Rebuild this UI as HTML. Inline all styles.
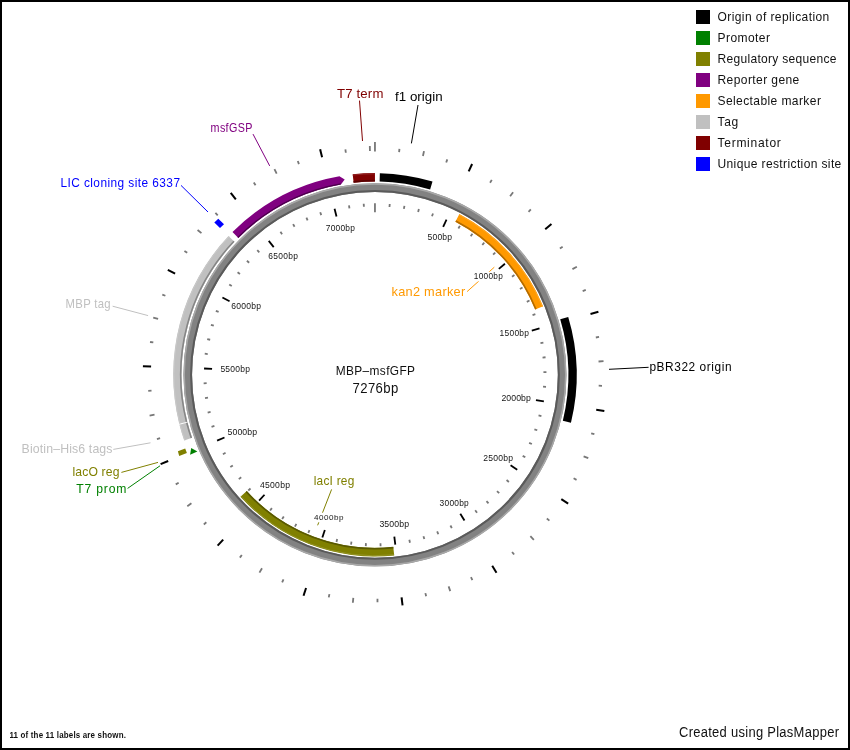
<!DOCTYPE html>
<html><head><meta charset="utf-8"><style>
html,body{margin:0;padding:0;background:#fff;}
#wrap{position:relative;width:850px;height:750px;overflow:hidden;background:#fff;}
#frame{position:absolute;left:0;top:0;width:846px;height:746px;border:2px solid #000;}
svg{position:absolute;left:0;top:0;will-change:transform;}
text{font-family:"Liberation Sans", sans-serif;}
</style></head><body><div id="wrap"><div id="frame"></div>
<svg width="850" height="750" viewBox="0 0 850 750">
<line x1="374.95" y1="212.35" x2="374.95" y2="203.15" stroke="#777777" stroke-width="1.8"/>
<line x1="389.48" y1="206.98" x2="389.74" y2="203.99" stroke="#777777" stroke-width="1.8"/>
<line x1="403.91" y1="208.86" x2="404.42" y2="205.90" stroke="#777777" stroke-width="1.8"/>
<line x1="418.12" y1="211.97" x2="418.88" y2="209.07" stroke="#777777" stroke-width="1.8"/>
<line x1="432.00" y1="216.30" x2="433.02" y2="213.48" stroke="#777777" stroke-width="1.8"/>
<line x1="443.16" y1="226.81" x2="446.51" y2="219.54" stroke="#000000" stroke-width="1.8"/>
<line x1="458.40" y1="228.47" x2="459.89" y2="225.86" stroke="#777777" stroke-width="1.8"/>
<line x1="470.71" y1="236.21" x2="472.42" y2="233.74" stroke="#777777" stroke-width="1.8"/>
<line x1="482.32" y1="244.99" x2="484.23" y2="242.67" stroke="#777777" stroke-width="1.8"/>
<line x1="493.12" y1="254.73" x2="495.22" y2="252.59" stroke="#777777" stroke-width="1.8"/>
<line x1="498.86" y1="268.94" x2="504.94" y2="263.74" stroke="#000000" stroke-width="1.8"/>
<line x1="512.00" y1="276.82" x2="514.44" y2="275.08" stroke="#777777" stroke-width="1.8"/>
<line x1="519.95" y1="289.01" x2="522.53" y2="287.48" stroke="#777777" stroke-width="1.8"/>
<line x1="526.81" y1="301.83" x2="529.51" y2="300.53" stroke="#777777" stroke-width="1.8"/>
<line x1="532.54" y1="315.20" x2="535.35" y2="314.14" stroke="#777777" stroke-width="1.8"/>
<line x1="531.80" y1="330.51" x2="539.50" y2="328.34" stroke="#000000" stroke-width="1.8"/>
<line x1="540.45" y1="343.17" x2="543.39" y2="342.61" stroke="#777777" stroke-width="1.8"/>
<line x1="542.56" y1="357.56" x2="545.55" y2="357.26" stroke="#777777" stroke-width="1.8"/>
<line x1="543.43" y1="372.09" x2="546.43" y2="372.04" stroke="#777777" stroke-width="1.8"/>
<line x1="543.04" y1="386.63" x2="546.03" y2="386.84" stroke="#777777" stroke-width="1.8"/>
<line x1="535.96" y1="400.22" x2="543.87" y2="401.47" stroke="#000000" stroke-width="1.8"/>
<line x1="538.51" y1="415.34" x2="541.43" y2="416.06" stroke="#777777" stroke-width="1.8"/>
<line x1="534.41" y1="429.29" x2="537.25" y2="430.26" stroke="#777777" stroke-width="1.8"/>
<line x1="529.12" y1="442.84" x2="531.87" y2="444.05" stroke="#777777" stroke-width="1.8"/>
<line x1="522.68" y1="455.89" x2="525.31" y2="457.33" stroke="#777777" stroke-width="1.8"/>
<line x1="510.57" y1="465.28" x2="517.22" y2="469.71" stroke="#000000" stroke-width="1.8"/>
<line x1="506.56" y1="480.07" x2="508.90" y2="481.94" stroke="#777777" stroke-width="1.8"/>
<line x1="496.99" y1="491.03" x2="499.17" y2="493.10" stroke="#777777" stroke-width="1.8"/>
<line x1="486.52" y1="501.12" x2="488.50" y2="503.37" stroke="#777777" stroke-width="1.8"/>
<line x1="475.21" y1="510.27" x2="477.00" y2="512.69" stroke="#777777" stroke-width="1.8"/>
<line x1="460.28" y1="513.73" x2="464.47" y2="520.55" stroke="#000000" stroke-width="1.8"/>
<line x1="450.45" y1="525.49" x2="451.79" y2="528.17" stroke="#777777" stroke-width="1.8"/>
<line x1="437.17" y1="531.44" x2="438.28" y2="534.23" stroke="#777777" stroke-width="1.8"/>
<line x1="423.44" y1="536.22" x2="424.30" y2="539.10" stroke="#777777" stroke-width="1.8"/>
<line x1="409.34" y1="539.80" x2="409.95" y2="542.74" stroke="#777777" stroke-width="1.8"/>
<line x1="394.33" y1="536.69" x2="395.28" y2="544.64" stroke="#000000" stroke-width="1.8"/>
<line x1="380.48" y1="543.26" x2="380.58" y2="546.26" stroke="#777777" stroke-width="1.8"/>
<line x1="365.93" y1="543.11" x2="365.77" y2="546.10" stroke="#777777" stroke-width="1.8"/>
<line x1="351.45" y1="541.70" x2="351.04" y2="544.67" stroke="#777777" stroke-width="1.8"/>
<line x1="337.15" y1="539.06" x2="336.48" y2="541.98" stroke="#777777" stroke-width="1.8"/>
<line x1="324.82" y1="529.95" x2="322.36" y2="537.56" stroke="#000000" stroke-width="1.8"/>
<line x1="309.49" y1="530.12" x2="308.33" y2="532.88" stroke="#777777" stroke-width="1.8"/>
<line x1="296.35" y1="523.89" x2="294.95" y2="526.55" stroke="#777777" stroke-width="1.8"/>
<line x1="283.79" y1="516.56" x2="282.16" y2="519.08" stroke="#777777" stroke-width="1.8"/>
<line x1="271.90" y1="508.17" x2="270.07" y2="510.54" stroke="#777777" stroke-width="1.8"/>
<line x1="264.51" y1="494.74" x2="259.09" y2="500.62" stroke="#000000" stroke-width="1.8"/>
<line x1="250.53" y1="488.48" x2="248.31" y2="490.50" stroke="#777777" stroke-width="1.8"/>
<line x1="241.19" y1="477.32" x2="238.81" y2="479.14" stroke="#777777" stroke-width="1.8"/>
<line x1="232.85" y1="465.40" x2="230.32" y2="467.01" stroke="#777777" stroke-width="1.8"/>
<line x1="225.57" y1="452.81" x2="222.91" y2="454.20" stroke="#777777" stroke-width="1.8"/>
<line x1="224.48" y1="437.52" x2="217.09" y2="440.60" stroke="#000000" stroke-width="1.8"/>
<line x1="214.39" y1="425.98" x2="211.54" y2="426.89" stroke="#777777" stroke-width="1.8"/>
<line x1="210.58" y1="411.94" x2="207.66" y2="412.60" stroke="#777777" stroke-width="1.8"/>
<line x1="208.00" y1="397.62" x2="205.02" y2="398.03" stroke="#777777" stroke-width="1.8"/>
<line x1="206.65" y1="383.14" x2="203.66" y2="383.29" stroke="#777777" stroke-width="1.8"/>
<line x1="212.06" y1="368.80" x2="204.07" y2="368.50" stroke="#000000" stroke-width="1.8"/>
<line x1="207.73" y1="354.10" x2="204.76" y2="353.73" stroke="#777777" stroke-width="1.8"/>
<line x1="210.15" y1="339.75" x2="207.21" y2="339.13" stroke="#777777" stroke-width="1.8"/>
<line x1="213.79" y1="325.67" x2="210.92" y2="324.79" stroke="#777777" stroke-width="1.8"/>
<line x1="218.63" y1="311.95" x2="215.85" y2="310.83" stroke="#777777" stroke-width="1.8"/>
<line x1="229.54" y1="301.19" x2="222.41" y2="297.57" stroke="#000000" stroke-width="1.8"/>
<line x1="231.77" y1="286.02" x2="229.22" y2="284.44" stroke="#777777" stroke-width="1.8"/>
<line x1="239.96" y1="274.00" x2="237.56" y2="272.21" stroke="#777777" stroke-width="1.8"/>
<line x1="249.16" y1="262.74" x2="246.92" y2="260.74" stroke="#777777" stroke-width="1.8"/>
<line x1="259.30" y1="252.31" x2="257.24" y2="250.12" stroke="#777777" stroke-width="1.8"/>
<line x1="273.71" y1="247.10" x2="268.75" y2="240.83" stroke="#000000" stroke-width="1.8"/>
<line x1="282.08" y1="234.25" x2="280.43" y2="231.75" stroke="#777777" stroke-width="1.8"/>
<line x1="294.55" y1="226.77" x2="293.12" y2="224.13" stroke="#777777" stroke-width="1.8"/>
<line x1="307.62" y1="220.39" x2="306.42" y2="217.64" stroke="#777777" stroke-width="1.8"/>
<line x1="321.20" y1="215.15" x2="320.24" y2="212.31" stroke="#777777" stroke-width="1.8"/>
<line x1="336.47" y1="216.46" x2="334.58" y2="208.68" stroke="#000000" stroke-width="1.8"/>
<line x1="349.44" y1="208.29" x2="348.98" y2="205.33" stroke="#777777" stroke-width="1.8"/>
<line x1="363.90" y1="206.71" x2="363.70" y2="203.72" stroke="#777777" stroke-width="1.8"/>
<line x1="374.95" y1="151.45" x2="374.95" y2="142.05" stroke="#777777" stroke-width="1.8"/>
<line x1="399.08" y1="152.15" x2="399.44" y2="148.87" stroke="#777777" stroke-width="1.8"/>
<line x1="422.93" y1="156.05" x2="424.01" y2="151.17" stroke="#777777" stroke-width="1.8"/>
<line x1="446.23" y1="162.49" x2="447.28" y2="159.36" stroke="#777777" stroke-width="1.8"/>
<line x1="468.69" y1="171.41" x2="472.12" y2="163.96" stroke="#000000" stroke-width="2.0"/>
<line x1="490.06" y1="182.69" x2="491.76" y2="179.86" stroke="#777777" stroke-width="1.8"/>
<line x1="510.09" y1="196.21" x2="513.11" y2="192.22" stroke="#777777" stroke-width="1.8"/>
<line x1="528.55" y1="211.81" x2="530.82" y2="209.41" stroke="#777777" stroke-width="1.8"/>
<line x1="545.22" y1="229.31" x2="551.46" y2="223.98" stroke="#000000" stroke-width="2.0"/>
<line x1="559.91" y1="248.50" x2="562.64" y2="246.64" stroke="#777777" stroke-width="1.8"/>
<line x1="572.45" y1="269.16" x2="576.86" y2="266.80" stroke="#777777" stroke-width="1.8"/>
<line x1="582.69" y1="291.05" x2="585.75" y2="289.82" stroke="#777777" stroke-width="1.8"/>
<line x1="590.50" y1="313.92" x2="598.40" y2="311.69" stroke="#000000" stroke-width="2.0"/>
<line x1="595.81" y1="337.50" x2="599.07" y2="336.95" stroke="#777777" stroke-width="1.8"/>
<line x1="598.55" y1="361.51" x2="603.54" y2="361.21" stroke="#777777" stroke-width="1.8"/>
<line x1="598.69" y1="385.68" x2="601.98" y2="385.84" stroke="#777777" stroke-width="1.8"/>
<line x1="596.22" y1="409.72" x2="604.32" y2="411.00" stroke="#000000" stroke-width="2.0"/>
<line x1="591.17" y1="433.35" x2="594.36" y2="434.22" stroke="#777777" stroke-width="1.8"/>
<line x1="583.61" y1="456.31" x2="588.27" y2="458.13" stroke="#777777" stroke-width="1.8"/>
<line x1="573.62" y1="478.32" x2="576.55" y2="479.84" stroke="#777777" stroke-width="1.8"/>
<line x1="561.32" y1="499.12" x2="568.14" y2="503.67" stroke="#000000" stroke-width="2.0"/>
<line x1="546.85" y1="518.47" x2="549.38" y2="520.59" stroke="#777777" stroke-width="1.8"/>
<line x1="530.37" y1="536.16" x2="533.84" y2="539.76" stroke="#777777" stroke-width="1.8"/>
<line x1="512.09" y1="551.96" x2="514.11" y2="554.57" stroke="#777777" stroke-width="1.8"/>
<line x1="492.21" y1="565.70" x2="496.50" y2="572.69" stroke="#000000" stroke-width="2.0"/>
<line x1="470.97" y1="577.23" x2="472.38" y2="580.21" stroke="#777777" stroke-width="1.8"/>
<line x1="448.61" y1="586.39" x2="450.25" y2="591.12" stroke="#777777" stroke-width="1.8"/>
<line x1="425.39" y1="593.10" x2="426.13" y2="596.31" stroke="#777777" stroke-width="1.8"/>
<line x1="401.58" y1="597.26" x2="402.56" y2="605.40" stroke="#000000" stroke-width="2.0"/>
<line x1="377.46" y1="598.84" x2="377.50" y2="602.14" stroke="#777777" stroke-width="1.8"/>
<line x1="353.32" y1="597.80" x2="352.84" y2="602.78" stroke="#777777" stroke-width="1.8"/>
<line x1="329.43" y1="594.18" x2="328.75" y2="597.41" stroke="#777777" stroke-width="1.8"/>
<line x1="306.06" y1="587.99" x2="303.54" y2="595.80" stroke="#000000" stroke-width="2.0"/>
<line x1="283.50" y1="579.33" x2="282.15" y2="582.34" stroke="#777777" stroke-width="1.8"/>
<line x1="262.00" y1="568.29" x2="259.48" y2="572.61" stroke="#777777" stroke-width="1.8"/>
<line x1="241.82" y1="555.00" x2="239.86" y2="557.65" stroke="#777777" stroke-width="1.8"/>
<line x1="223.19" y1="539.60" x2="217.63" y2="545.64" stroke="#000000" stroke-width="2.0"/>
<line x1="206.32" y1="522.29" x2="203.84" y2="524.47" stroke="#777777" stroke-width="1.8"/>
<line x1="191.42" y1="503.27" x2="187.32" y2="506.14" stroke="#777777" stroke-width="1.8"/>
<line x1="178.65" y1="482.75" x2="175.76" y2="484.34" stroke="#777777" stroke-width="1.8"/>
<line x1="168.17" y1="460.97" x2="160.60" y2="464.13" stroke="#000000" stroke-width="2.0"/>
<line x1="160.09" y1="438.19" x2="156.93" y2="439.13" stroke="#777777" stroke-width="1.8"/>
<line x1="154.52" y1="414.68" x2="149.60" y2="415.57" stroke="#777777" stroke-width="1.8"/>
<line x1="151.51" y1="390.70" x2="148.22" y2="390.93" stroke="#777777" stroke-width="1.8"/>
<line x1="151.10" y1="366.53" x2="142.91" y2="366.23" stroke="#000000" stroke-width="2.0"/>
<line x1="153.30" y1="342.47" x2="150.04" y2="341.99" stroke="#777777" stroke-width="1.8"/>
<line x1="158.08" y1="318.78" x2="153.24" y2="317.52" stroke="#777777" stroke-width="1.8"/>
<line x1="165.39" y1="295.74" x2="162.30" y2="294.57" stroke="#777777" stroke-width="1.8"/>
<line x1="175.13" y1="273.62" x2="167.81" y2="269.92" stroke="#000000" stroke-width="2.0"/>
<line x1="187.20" y1="252.68" x2="184.43" y2="250.88" stroke="#777777" stroke-width="1.8"/>
<line x1="201.45" y1="233.17" x2="197.58" y2="230.00" stroke="#777777" stroke-width="1.8"/>
<line x1="217.72" y1="215.30" x2="215.41" y2="212.95" stroke="#777777" stroke-width="1.8"/>
<line x1="235.83" y1="199.29" x2="230.74" y2="192.86" stroke="#000000" stroke-width="2.0"/>
<line x1="255.55" y1="185.32" x2="253.79" y2="182.53" stroke="#777777" stroke-width="1.8"/>
<line x1="276.67" y1="173.56" x2="274.47" y2="169.07" stroke="#777777" stroke-width="1.8"/>
<line x1="298.92" y1="164.15" x2="297.80" y2="161.04" stroke="#777777" stroke-width="1.8"/>
<line x1="322.07" y1="157.18" x2="320.13" y2="149.21" stroke="#000000" stroke-width="2.0"/>
<line x1="345.82" y1="152.75" x2="345.39" y2="149.48" stroke="#777777" stroke-width="1.8"/>
<line x1="369.92" y1="150.91" x2="369.81" y2="145.91" stroke="#777777" stroke-width="1.8"/>
<circle cx="374.95" cy="374.85" r="187.2" fill="none" stroke="#828282" stroke-width="8.6"/>
<circle cx="374.95" cy="374.85" r="183.9" fill="none" stroke="#5a5a5a" stroke-width="2"/>
<circle cx="374.95" cy="374.85" r="190.8" fill="none" stroke="#a8a8a8" stroke-width="1.5"/>
<path d="M379.83,173.16 A201.75,201.75 0 0 1 432.50,181.48 L430.12,189.49 A193.40,193.40 0 0 0 379.63,181.51 Z" fill="#000000"/>
<path d="M352.70,174.33 A201.75,201.75 0 0 1 374.95,173.10 L374.95,181.45 A193.40,193.40 0 0 0 353.62,182.63 Z" fill="#800000"/>
<path d="M353.53,181.84 A194.20,194.20 0 0 1 374.95,180.65" fill="none" stroke="#590000" stroke-width="1.6"/>
<path d="M352.77,175.03 A201.05,201.05 0 0 1 374.95,173.80" fill="none" stroke="#932626" stroke-width="1.0"/>
<path d="M179.19,423.67 A201.75,201.75 0 0 1 228.46,236.12 L234.53,241.87 A193.40,193.40 0 0 0 187.30,421.64 Z" fill="#c0c0c0"/>
<path d="M186.52,421.84 A194.20,194.20 0 0 1 233.95,241.32" fill="none" stroke="#868686" stroke-width="1.6"/>
<path d="M179.87,423.50 A201.05,201.05 0 0 1 228.97,236.61" fill="none" stroke="#c9c9c9" stroke-width="1.0"/>
<path d="M184.19,440.53 A201.75,201.75 0 0 1 179.45,424.68 L187.54,422.62 A193.40,193.40 0 0 0 192.09,437.81 Z" fill="#c0c0c0"/>
<path d="M191.33,438.07 A194.20,194.20 0 0 1 186.77,422.81" fill="none" stroke="#868686" stroke-width="1.6"/>
<path d="M184.85,440.30 A201.05,201.05 0 0 1 180.13,424.51" fill="none" stroke="#c9c9c9" stroke-width="1.0"/>
<path d="M568.22,316.96 A201.75,201.75 0 0 1 570.96,422.65 L562.84,420.67 A193.40,193.40 0 0 0 560.22,319.36 Z" fill="#000000"/>
<path d="M459.39,214.07 A181.60,181.60 0 0 1 543.13,306.33 L535.16,309.58 A173.00,173.00 0 0 0 455.39,221.69 Z" fill="#ff9900"/>
<path d="M455.76,220.98 A173.80,173.80 0 0 1 535.91,309.28" fill="none" stroke="#b26b00" stroke-width="1.6"/>
<path d="M459.06,214.69 A180.90,180.90 0 0 1 542.48,306.60" fill="none" stroke="#ffa826" stroke-width="1.0"/>
<path d="M394.20,555.43 A181.60,181.60 0 0 1 240.43,496.85 L246.80,491.07 A173.00,173.00 0 0 0 393.29,546.88 Z" fill="#808000"/>
<path d="M393.38,547.67 A173.80,173.80 0 0 1 246.21,491.61" fill="none" stroke="#595900" stroke-width="1.6"/>
<path d="M394.13,554.73 A180.90,180.90 0 0 1 240.95,496.37" fill="none" stroke="#939326" stroke-width="1.0"/>
<path d="M232.48,232.01 A201.75,201.75 0 0 1 339.42,176.25 L344.70,179.60 L340.89,184.47 A193.40,193.40 0 0 0 238.37,237.92 Z" fill="#800080"/>
<path d="M237.88,237.42 A194.10,194.10 0 0 1 340.77,183.78" fill="none" stroke="#4c004c" stroke-width="1.3"/>
<polygon points="177.9,451.3 185.2,448.5 186.9,453.1 179.2,455.9" fill="#808000"/>
<polygon points="191.2,448.1 190.1,454.8 197.4,451.5" fill="#008000"/>
<polygon points="218.3,218.7 224,224.3 220,228 214.3,222.5" fill="#0000ff"/>
<line x1="359.5" y1="100.6" x2="362.5" y2="141.0" stroke="#800000" stroke-width="1.0"/>
<line x1="418.0" y1="105.0" x2="411.4" y2="143.4" stroke="#000000" stroke-width="1.0"/>
<line x1="253.0" y1="134.1" x2="269.7" y2="165.9" stroke="#800080" stroke-width="1.0"/>
<line x1="181.0" y1="185.4" x2="208.0" y2="212.0" stroke="#0000ff" stroke-width="1.0"/>
<line x1="112.6" y1="306.2" x2="148.1" y2="315.6" stroke="#c0c0c0" stroke-width="1.0"/>
<line x1="113.3" y1="449.4" x2="150.5" y2="442.8" stroke="#c0c0c0" stroke-width="1.0"/>
<line x1="121.4" y1="472.4" x2="158.0" y2="462.4" stroke="#808000" stroke-width="1.0"/>
<line x1="127.6" y1="488.4" x2="160.0" y2="465.8" stroke="#008000" stroke-width="1.0"/>
<line x1="609.0" y1="369.3" x2="648.6" y2="367.3" stroke="#000000" stroke-width="1.0"/>
<line x1="467.1" y1="291.6" x2="494.3" y2="267.2" stroke="#ff9900" stroke-width="1.0"/>
<line x1="331.6" y1="489.4" x2="317.63" y2="525.30" stroke="#808000" stroke-width="1.0"/>
<rect x="426.60" y="232.30" width="26.40" height="9.90" fill="#ffffff"/>
<text x="427.60" y="239.70" font-size="8.55" fill="#151515" textLength="24.40" lengthAdjust="spacing">500bp</text>
<rect x="472.80" y="271.70" width="31.00" height="9.70" fill="#ffffff"/>
<text x="473.80" y="278.90" font-size="8.26" fill="#151515" textLength="29.00" lengthAdjust="spacing">1000bp</text>
<rect x="498.60" y="328.70" width="31.40" height="9.80" fill="#ffffff"/>
<text x="499.60" y="336.00" font-size="8.41" fill="#151515" textLength="29.40" lengthAdjust="spacing">1500bp</text>
<rect x="500.40" y="393.50" width="31.40" height="10.00" fill="#ffffff"/>
<text x="501.40" y="401.00" font-size="8.70" fill="#151515" textLength="29.40" lengthAdjust="spacing">2000bp</text>
<rect x="482.30" y="453.60" width="31.80" height="10.20" fill="#ffffff"/>
<text transform="translate(483.30,461.30) scale(0.9541,1)" x="0" y="0" font-size="8.99" fill="#151515" textLength="31.23" lengthAdjust="spacing">2500bp</text>
<rect x="438.60" y="498.40" width="31.20" height="10.40" fill="#ffffff"/>
<text transform="translate(439.60,506.30) scale(0.9057,1)" x="0" y="0" font-size="9.28" fill="#151515" textLength="32.24" lengthAdjust="spacing">3000bp</text>
<rect x="378.40" y="519.50" width="31.60" height="10.00" fill="#ffffff"/>
<text x="379.40" y="527.00" font-size="8.70" fill="#151515" textLength="29.60" lengthAdjust="spacing">3500bp</text>
<rect x="313.10" y="512.70" width="31.50" height="9.60" fill="#ffffff"/>
<text x="314.10" y="519.80" font-size="8.12" fill="#151515" textLength="29.50" lengthAdjust="spacing">4000bp</text>
<rect x="259.00" y="480.50" width="32.00" height="10.40" fill="#ffffff"/>
<text transform="translate(260.00,488.40) scale(0.9305,1)" x="0" y="0" font-size="9.28" fill="#151515" textLength="32.24" lengthAdjust="spacing">4500bp</text>
<rect x="226.60" y="427.90" width="31.40" height="10.00" fill="#ffffff"/>
<text x="227.60" y="435.40" font-size="8.70" fill="#151515" textLength="29.40" lengthAdjust="spacing">5000bp</text>
<rect x="219.40" y="364.50" width="31.60" height="10.40" fill="#ffffff"/>
<text transform="translate(220.40,372.40) scale(0.9181,1)" x="0" y="0" font-size="9.28" fill="#151515" textLength="32.24" lengthAdjust="spacing">5500bp</text>
<rect x="230.20" y="301.70" width="31.70" height="9.90" fill="#ffffff"/>
<text x="231.20" y="309.10" font-size="8.55" fill="#151515" textLength="29.70" lengthAdjust="spacing">6000bp</text>
<rect x="267.30" y="251.80" width="31.60" height="9.80" fill="#ffffff"/>
<text x="268.30" y="259.10" font-size="8.41" fill="#151515" textLength="29.60" lengthAdjust="spacing">6500bp</text>
<rect x="324.80" y="223.50" width="31.10" height="10.20" fill="#ffffff"/>
<text transform="translate(325.80,231.20) scale(0.9317,1)" x="0" y="0" font-size="8.99" fill="#151515" textLength="31.23" lengthAdjust="spacing">7000bp</text>
<text x="337.00" y="98.10" font-size="13.19" fill="#800000" textLength="46.40" lengthAdjust="spacing">T7 term</text>
<text x="395.00" y="101.10" font-size="13.33" fill="#000000" textLength="47.70" lengthAdjust="spacing">f1 origin</text>
<text transform="translate(210.60,132.00) scale(0.8432,1)" x="0" y="0" font-size="12.75" fill="#800080" textLength="49.46" lengthAdjust="spacing">msfGSP</text>
<text x="60.40" y="186.60" font-size="11.88" fill="#0000ff" textLength="119.60" lengthAdjust="spacing">LIC cloning site 6337</text>
<text transform="translate(65.60,307.90) scale(0.9081,1)" x="0" y="0" font-size="12.46" fill="#c0c0c0" textLength="49.56" lengthAdjust="spacing">MBP tag</text>
<text x="21.60" y="452.60" font-size="12.32" fill="#c0c0c0" textLength="90.90" lengthAdjust="spacing">Biotin&#8211;His6 tags</text>
<text x="72.40" y="475.70" font-size="12.17" fill="#808000" textLength="47.10" lengthAdjust="spacing">lacO reg</text>
<text x="76.20" y="493.00" font-size="12.17" fill="#008000" textLength="50.20" lengthAdjust="spacing">T7 prom</text>
<text x="649.40" y="370.60" font-size="11.88" fill="#000000" textLength="82.10" lengthAdjust="spacing">pBR322 origin</text>
<text x="391.50" y="295.80" font-size="12.75" fill="#ff9900" textLength="73.70" lengthAdjust="spacing">kan2 marker</text>
<text transform="translate(313.70,485.00) scale(0.9426,1)" x="0" y="0" font-size="12.61" fill="#808000" textLength="43.07" lengthAdjust="spacing">lacI reg</text>
<text transform="translate(335.80,374.80) scale(0.8734,1)" x="0" y="0" font-size="13.62" fill="#111111" textLength="90.67" lengthAdjust="spacing">MBP&#8211;msfGFP</text>
<text transform="translate(352.60,392.90) scale(0.8788,1)" x="0" y="0" font-size="14.93" fill="#111111" textLength="51.89" lengthAdjust="spacing">7276bp</text>
<text transform="translate(679.00,736.90) scale(0.8863,1)" x="0" y="0" font-size="14.64" fill="#111111" textLength="180.53" lengthAdjust="spacing">Created using PlasMapper</text>
<text transform="translate(9.40,738.10) scale(0.8746,1)" x="0" y="0" font-size="9.13" fill="#111111" font-weight="bold" textLength="133.21" lengthAdjust="spacing">11 of the 11 labels are shown.</text>
<rect x="696" y="10" width="14" height="14" fill="#000000"/>
<text x="717.50" y="20.80" font-size="12.03" fill="#111111" textLength="111.80" lengthAdjust="spacing">Origin of replication</text>
<rect x="696" y="31" width="14" height="14" fill="#008000"/>
<text x="717.50" y="41.80" font-size="12.03" fill="#111111" textLength="52.50" lengthAdjust="spacing">Promoter</text>
<rect x="696" y="52" width="14" height="14" fill="#808000"/>
<text x="717.50" y="62.80" font-size="12.03" fill="#111111" textLength="119.00" lengthAdjust="spacing">Regulatory sequence</text>
<rect x="696" y="73" width="14" height="14" fill="#800080"/>
<text x="717.50" y="83.80" font-size="12.03" fill="#111111" textLength="81.80" lengthAdjust="spacing">Reporter gene</text>
<rect x="696" y="94" width="14" height="14" fill="#ff9900"/>
<text x="717.50" y="104.80" font-size="12.03" fill="#111111" textLength="103.40" lengthAdjust="spacing">Selectable marker</text>
<rect x="696" y="115" width="14" height="14" fill="#c0c0c0"/>
<text x="717.50" y="125.80" font-size="12.03" fill="#111111" textLength="20.80" lengthAdjust="spacing">Tag</text>
<rect x="696" y="136" width="14" height="14" fill="#800000"/>
<text x="717.50" y="146.80" font-size="12.03" fill="#111111" textLength="63.30" lengthAdjust="spacing">Terminator</text>
<rect x="696" y="157" width="14" height="14" fill="#0000ff"/>
<text x="717.50" y="167.80" font-size="12.03" fill="#111111" textLength="123.80" lengthAdjust="spacing">Unique restriction site</text>
</svg></div></body></html>
